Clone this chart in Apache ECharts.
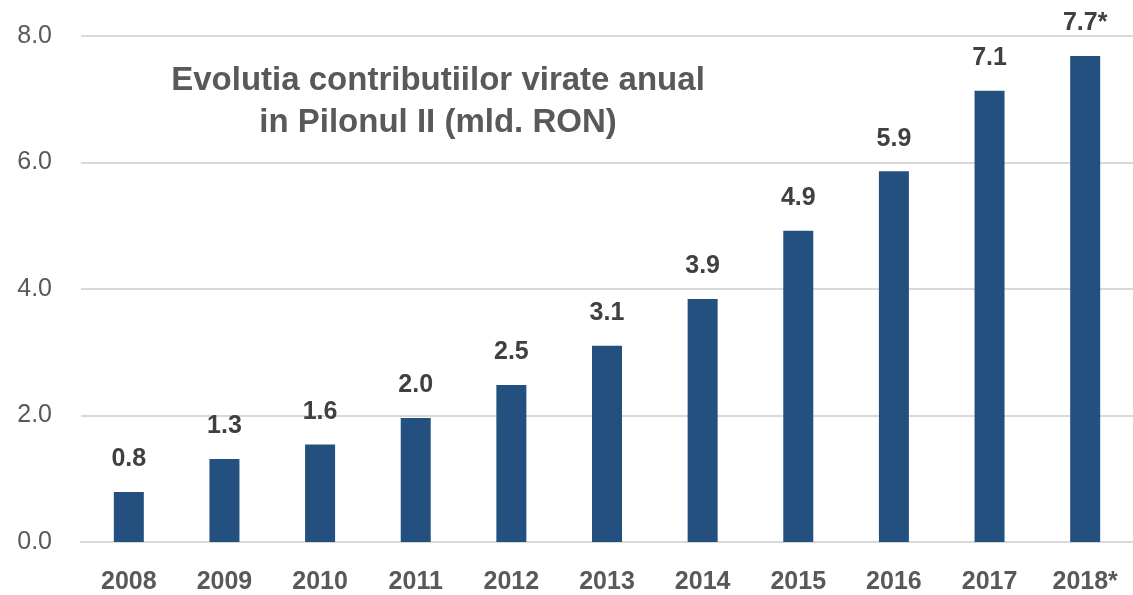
<!DOCTYPE html>
<html>
<head>
<meta charset="utf-8">
<script src="https://cdn.jsdelivr.net/npm/echarts@6/dist/echarts.min.js"></script>
<style>
html,body{margin:0;padding:0;background:#fff;}
#c{width:1133px;height:595px;}
</style>
</head>
<body>
<div id="c"></div>
<script>
const categories = ['2008','2009','2010','2011','2012','2013','2014','2015','2016','2017','2018*'];
const values = [0.79, 1.31, 1.54, 1.96, 2.48, 3.10, 3.84, 4.92, 5.86, 7.13, 7.68];
const valueLabels = ['0.8','1.3','1.6','2.0','2.5','3.1','3.9','4.9','5.9','7.1','7.7*'];
const titleLines = ['Evolutia contributiilor virate anual', 'in Pilonul II (mld. RON)'];
const yTicks = { min: 0, max: 8, interval: 2 };

const FONT = 'Liberation Sans';
const chart = echarts.init(document.getElementById('c'), null, {renderer: 'canvas'});
chart.setOption({
  animation: false,
  backgroundColor: '#ffffff',
  title: {
    text: titleLines.join('\n'),
    left: 433,
    top: 55,
    textAlign: 'center',
    textStyle: {
      fontFamily: FONT,
      fontWeight: 'bold',
      fontSize: 33,
      lineHeight: 42,
      color: '#595959'
    }
  },
  grid: { left: 81, right: -15, top: 35.7, bottom: 52.7, containLabel: false },
  xAxis: {
    type: 'category',
    data: categories,
    axisLine: { show: true, lineStyle: { color: '#d9d9d9', width: 2 } },
    axisTick: { show: false },
    axisLabel: {
      margin: 28,
      fontFamily: FONT,
      fontWeight: 'bold',
      fontSize: 25,
      color: '#595959'
    }
  },
  yAxis: {
    type: 'value',
    min: yTicks.min,
    max: yTicks.max,
    interval: yTicks.interval,
    axisLine: { show: false },
    axisTick: { show: false },
    splitLine: { lineStyle: { color: '#d9d9d9', width: 2 } },
    axisLabel: {
      margin: 29,
      fontFamily: FONT,
      fontSize: 25,
      color: '#595959',
      padding: [3, 0, 0, 0],
      formatter: v => v.toFixed(1)
    }
  },
  series: [{
    type: 'bar',
    data: values,
    barWidth: 30,
    itemStyle: { color: '#23507F' },
    label: {
      show: true,
      position: 'top',
      distance: 20,
      fontFamily: FONT,
      fontWeight: 'bold',
      fontSize: 25,
      color: '#404040',
      formatter: p => valueLabels[p.dataIndex]
    }
  }]
});
</script>
</body>
</html>
